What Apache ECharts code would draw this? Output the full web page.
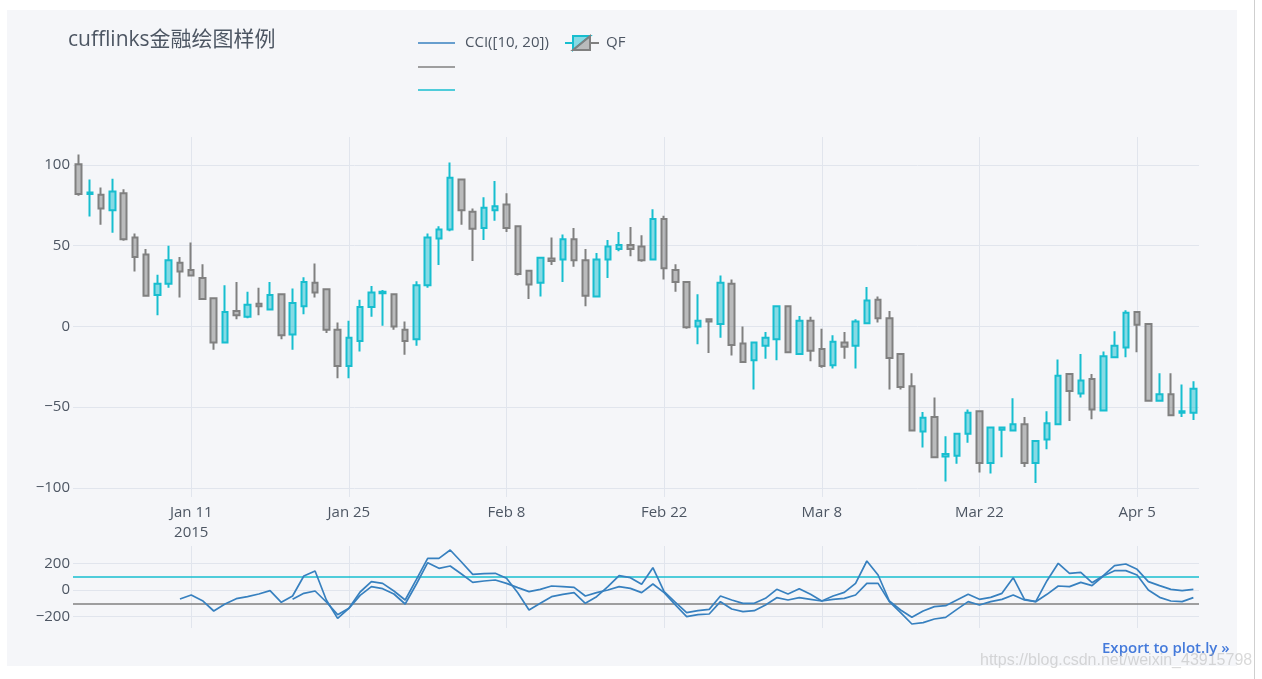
<!DOCTYPE html>
<html>
<head>
<meta charset="utf-8">
<script src="https://cdn.jsdelivr.net/npm/echarts@6/dist/echarts.min.js"></script>
<style>
html,body{margin:0;padding:0;background:#ffffff;width:1262px;height:679px;overflow:hidden;}
#paper{position:absolute;left:7px;top:10px;width:1230px;height:656px;background:#F5F6F9;}
#edge{position:absolute;left:1254px;top:0;width:1px;height:679px;background:#cfcfcf;}
#chart{position:absolute;left:0;top:0;width:1262px;height:679px;}
</style>
</head>
<body>
<div id="paper"></div>
<div id="edge"></div>
<div id="chart"></div>
<script>
// ---------- data ----------
const dates = [
 '2015-01-01','2015-01-02','2015-01-03','2015-01-04','2015-01-05','2015-01-06','2015-01-07','2015-01-08','2015-01-09','2015-01-10',
 '2015-01-11','2015-01-12','2015-01-13','2015-01-14','2015-01-15','2015-01-16','2015-01-17','2015-01-18','2015-01-19','2015-01-20',
 '2015-01-21','2015-01-22','2015-01-23','2015-01-24','2015-01-25','2015-01-26','2015-01-27','2015-01-28','2015-01-29','2015-01-30',
 '2015-01-31','2015-02-01','2015-02-02','2015-02-03','2015-02-04','2015-02-05','2015-02-06','2015-02-07','2015-02-08','2015-02-09',
 '2015-02-10','2015-02-11','2015-02-12','2015-02-13','2015-02-14','2015-02-15','2015-02-16','2015-02-17','2015-02-18','2015-02-19',
 '2015-02-20','2015-02-21','2015-02-22','2015-02-23','2015-02-24','2015-02-25','2015-02-26','2015-02-27','2015-02-28','2015-03-01',
 '2015-03-02','2015-03-03','2015-03-04','2015-03-05','2015-03-06','2015-03-07','2015-03-08','2015-03-09','2015-03-10','2015-03-11',
 '2015-03-12','2015-03-13','2015-03-14','2015-03-15','2015-03-16','2015-03-17','2015-03-18','2015-03-19','2015-03-20','2015-03-21',
 '2015-03-22','2015-03-23','2015-03-24','2015-03-25','2015-03-26','2015-03-27','2015-03-28','2015-03-29','2015-03-30','2015-03-31',
 '2015-04-01','2015-04-02','2015-04-03','2015-04-04','2015-04-05','2015-04-06','2015-04-07','2015-04-08','2015-04-09','2015-04-10'
];

const opens = [
 100.5, 82, 81.5, 72, 82.5, 55, 44.5, 19.5, 26.5, 39.5,
 35, 30, 17.5, -10, 9.5, 6, 14, 10.5, 20, -5,
 12.5, 27, 23, -2, -24.5, -9, 12, 20.5, 20, -2,
 -8, 25.5, 54.5, 60, 91, 71, 61, 72, 75.5, 62,
 34.5, 27, 42, 41.5, 54, 41, 18.5, 41.5, 48, 50.5,
 49.5, 41.5, 66.5, 35, 27.5, 0, 4.5, 1.5, 26.5, -10.5,
 -21, -12, -8, 12.5, -17, 3.5, -14, -24, -10, -12,
 2, 16.5, 5, -17, -37, -65, -56, -80.5, -80, -66.5,
 -52.5, -84.5, -64, -64.5, -60.5, -84.5, -70, -60.5, -29.5, -41.5,
 -32.5, -52, -19, -13, 9, 1.5, -46, -42, -53.5, -53.5
];
const closes = [
 82, 83, 73, 83.5, 54, 43, 19, 26.5, 41, 34,
 31.5, 17, -10, 9, 7, 13.5, 12.5, 19.5, -5.5, 14.5,
 27.5, 21, -2, -24.5, -7, 12, 21, 21.5, 0, -9,
 25.5, 55, 60, 92, 72, 60.5, 73.5, 74.5, 61, 32.5,
 26, 42.5, 40.5, 54, 41, 19, 41.5, 49.5, 50.5, 48,
 41, 66.5, 36, 27.5, -0.5, 3.5, 3, 27, -11.5, -22,
 -10, -7, 12.5, -16, 3.5, -15, -24.5, -9.5, -12.5, 3,
 16, 5, -19.5, -37.5, -64.5, -56.5, -81, -79, -66.5, -53.5,
 -84.5, -62.5, -62.5, -60.5, -84.5, -71, -60, -30.5, -40, -33.5,
 -51.5, -18.5, -12, 8.5, 1, -46, -42, -55, -52.5, -38.5
];
const highs = [
 106.5, 91, 86, 91.5, 85, 57.5, 48, 32, 50, 43,
 52, 38.5, 18, 25.5, 27.5, 21.5, 24, 27.5, 20.5, 23.5,
 30.5, 39, 23.5, 2.5, 3.5, 16.5, 25, 22.5, 20.5, 3,
 28, 57.5, 62, 101.5, 91.5, 73, 80, 90, 82.5, 62.5,
 35, 43, 55, 57, 61, 48, 45.5, 53.5, 58.5, 61.5,
 56.5, 72.5, 68.5, 38.5, 28, 20, 5, 31.5, 29, 0,
 -9.5, -3.5, 13, 13, 6.5, 6, -1.5, -5.5, -3.5, 4.5,
 24.5, 18.5, 9.5, -16.5, -29, -53, -44, -68, -66, -51.5,
 -52, -62, -62, -44.5, -56, -70.5, -52.5, -20.5, -29, -17,
 -29.5, -15.5, -3, 10, 9.5, 2, -29, -29, -36, -34
];
const lows = [
 81, 68, 63, 58, 53, 34, 18.5, 7, 24, 18,
 31, 16.5, -14.5, -10.5, 4.5, 5, 7, 10, -8, -14.5,
 7.5, 18, -4, -32, -32, -15.5, 6, 0.5, -2, -17.5,
 -12, 24, 38, 59, 63, 40.5, 53.5, 65.5, 58.5, 31.5,
 17, 18.5, 38, 27.5, 37, 12.5, 18, 30, 46.5, 43.5,
 40, 41.5, 29, 21.5, -1.5, -11, -16.5, -7, -18, -22.5,
 -39, -20, -21, -16.5, -17.5, -21.5, -25.5, -26, -20, -26,
 1.5, 2.5, -39, -39, -65, -75, -81.5, -96, -85, -72,
 -90.5, -91, -81, -65, -87, -97, -76, -61, -58.5, -44,
 -57.5, -52.5, -19.5, -19, -16, -46.5, -46.5, -55.5, -56, -58
];

const cci10 = [
 null, null, null, null, null, null, null, null, null, -67.5,
 -37.5, -80, -157.5, -105, -65, -50, -30, -5, -92.5, -45,
 105, 142.5, -75, -212.5, -137.5, -15, 62.5, 50, -7.5, -75,
 80, 237.5, 237.5, 300, 210, 117.5, 122.5, 125, 87.5, -20,
 -150, -100, -50, -32.5, -20, -100, -50, 25, 107.5, 92.5,
 42.5, 167.5, -12.5, -92.5, -170, -155, -145, -45, -75, -100,
 -100, -62.5, 5, -30, 10, -32.5, -82.5, -45, -17.5, 50,
 217.5, 112.5, -82.5, -150, -205, -157.5, -125, -117.5, -75, -32.5,
 -70, -55, -25, 92.5, -70, -87.5, 70, 200, 125, 132.5,
 55, 107.5, 182.5, 195, 155, 62.5, 32.5, 5, -5, 5
];
const cci20 = [
 null, null, null, null, null, null, null, null, null, null,
 null, null, null, null, null, null, null, null, null, -70,
 -25, -7.5, -90, -185, -137.5, -40, 25, 10, -30, -105,
 45, 205, 162.5, 180, 120, 57.5, 67.5, 75, 50, 17.5,
 -12.5, 5, 30, 25, 20, -45, -20, 0, 25, 12.5,
 -20, 45, -20, -112.5, -200, -185, -180, -87.5, -142.5, -162.5,
 -155, -112.5, -57.5, -75, -57.5, -70, -82.5, -70, -62.5, -37.5,
 50, 50, -87.5, -170, -255, -245, -217.5, -205, -145, -87.5,
 -112.5, -87.5, -70, -37.5, -75, -87.5, -32.5, 30, 25, 57.5,
 32.5, 105, 145, 145, 112.5, 0, -55, -82.5, -87.5, -57.5
];

const cciUpper = 100;
const cciLower = -100;

const tickDates = ['2015-01-11','2015-01-25','2015-02-08','2015-02-22','2015-03-08','2015-03-22','2015-04-05'];
const tickTexts = ['Jan 11\n2015','Jan 25','Feb 8','Feb 22','Mar 8','Mar 22','Apr 5'];

// ---------- chart ----------
const FONT = "'Open Sans', 'Noto Sans CJK SC', sans-serif";
const TXT = '#4D5663';
const GRID = '#E1E5ED';
const UP = '#17BECF';
const DOWN = '#808080';
const CCI_COLOR = '#3780BF';

const candles = dates.map((d, i) => [opens[i], closes[i], lows[i], highs[i]]);
const minusFmt = v => (v < 0 ? '\u2212' + Math.abs(v) : String(v));
const vGrid = tickDates.map(d => ({ xAxis: d, lineStyle: { color: GRID, width: 1, type: 'solid' } }));

const chart = echarts.init(document.getElementById('chart'), null, { renderer: 'canvas' });

const yAxisCommon = {
  type: 'value',
  axisLine: { show: false },
  axisTick: { show: false },
  axisLabel: { fontSize: 15, color: TXT, fontFamily: FONT, margin: 3, showMinLabel: false, showMaxLabel: false, formatter: minusFmt },
  splitLine: { show: true, showMinLine: false, showMaxLine: false, lineStyle: { color: GRID, width: 1 } }
};

const option = {
  animation: false,
  textStyle: { fontFamily: FONT },
  title: {
    text: 'cufflinks金融绘图样例',
    left: 63, top: 25,
    textStyle: { fontSize: 21, fontWeight: 'normal', color: TXT, fontFamily: FONT }
  },
  grid: [
    { left: 73, top: 137, width: 1126, height: 360 },
    { left: 73, top: 546, width: 1126, height: 82 }
  ],
  xAxis: [
    {
      type: 'category', gridIndex: 0, data: dates, boundaryGap: true,
      axisLine: { show: false }, axisTick: { show: false }, splitLine: { show: false },
      axisLabel: {
        interval: (idx, val) => tickDates.indexOf(val) >= 0,
        formatter: val => tickTexts[tickDates.indexOf(val)],
        fontSize: 15, color: TXT, fontFamily: FONT, lineHeight: 20, margin: 6
      }
    },
    {
      type: 'category', gridIndex: 1, data: dates, boundaryGap: true,
      axisLine: { show: false }, axisTick: { show: false }, splitLine: { show: false },
      axisLabel: { show: false }
    }
  ],
  yAxis: [
    Object.assign({}, yAxisCommon, { gridIndex: 0, min: -105.6, max: 117.3, splitNumber: 5 }),
    Object.assign({}, yAxisCommon, { gridIndex: 1, min: -285, max: 330, splitNumber: 3 })
  ],
  series: [
    {
      name: 'QF', type: 'candlestick', xAxisIndex: 0, yAxisIndex: 0,
      data: candles, barWidth: 6,
      itemStyle: {
        color: 'rgba(23,190,207,0.5)', color0: 'rgba(128,128,128,0.5)',
        borderColor: UP, borderColor0: DOWN, borderWidth: 2
      },
      markLine: {
        z: 1, silent: true, symbol: ['none', 'none'], label: { show: false },
        data: vGrid
      }
    },
    {
      name: 'CCI([10, 20])', type: 'line', xAxisIndex: 1, yAxisIndex: 1,
      data: cci10, showSymbol: false, symbol: 'none', connectNulls: false,
      lineStyle: { color: CCI_COLOR, width: 1.7 }, itemStyle: { color: CCI_COLOR },
      markLine: {
        z: 1, silent: true, symbol: ['none', 'none'], label: { show: false },
        data: vGrid.concat([
          { yAxis: cciUpper, lineStyle: { color: UP, width: 1.5, type: 'solid' } },
          { yAxis: cciLower, lineStyle: { color: DOWN, width: 1.5, type: 'solid' } }
        ])
      }
    },
    {
      name: 'CCI([10, 20])', type: 'line', xAxisIndex: 1, yAxisIndex: 1,
      data: cci20, showSymbol: false, symbol: 'none',
      lineStyle: { color: CCI_COLOR, width: 1.7 }, itemStyle: { color: CCI_COLOR }
    }
  ],
  graphic: [
    { type: 'line', shape: { x1: 418, y1: 43, x2: 455, y2: 43 }, style: { stroke: CCI_COLOR, lineWidth: 1.6 } },
    { type: 'text', x: 465, y: 43, style: { text: 'CCI([10, 20])', fontSize: 15, fontFamily: FONT, fill: TXT, verticalAlign: 'middle' } },
    { type: 'line', shape: { x1: 565, y1: 43, x2: 573, y2: 43 }, style: { stroke: UP, lineWidth: 2 } },
    { type: 'polygon', shape: { points: [[573, 36], [590, 36], [573, 50]] }, style: { fill: 'rgba(23,190,207,0.5)', stroke: UP, lineWidth: 2 } },
    { type: 'polygon', shape: { points: [[590, 36], [590, 50], [573, 50]] }, style: { fill: 'rgba(128,128,128,0.5)', stroke: DOWN, lineWidth: 2 } },
    { type: 'line', shape: { x1: 590, y1: 43, x2: 599, y2: 43 }, style: { stroke: DOWN, lineWidth: 2 } },
    { type: 'text', x: 606, y: 43, style: { text: 'QF', fontSize: 15, fontFamily: FONT, fill: TXT, verticalAlign: 'middle' } },
    { type: 'line', shape: { x1: 418, y1: 67, x2: 455, y2: 67 }, style: { stroke: DOWN, lineWidth: 1.5 } },
    { type: 'line', shape: { x1: 418, y1: 90, x2: 455, y2: 90 }, style: { stroke: UP, lineWidth: 1.5 } },
    { type: 'text', x: 1102, y: 649, style: { text: 'Export to plot.ly \u00bb', fontSize: 15, fontWeight: 600, fontFamily: FONT, fill: '#447ADB', verticalAlign: 'middle' } },
    { type: 'text', x: 980, y: 661, style: { text: 'https://blog.csdn.net/weixin_43915798', fontSize: 16, fontFamily: "'Liberation Sans', Arial, sans-serif", fill: 'rgba(170,170,170,0.45)', verticalAlign: 'middle' } }
  ]
};

chart.setOption(option);
</script>
</body>
</html>
